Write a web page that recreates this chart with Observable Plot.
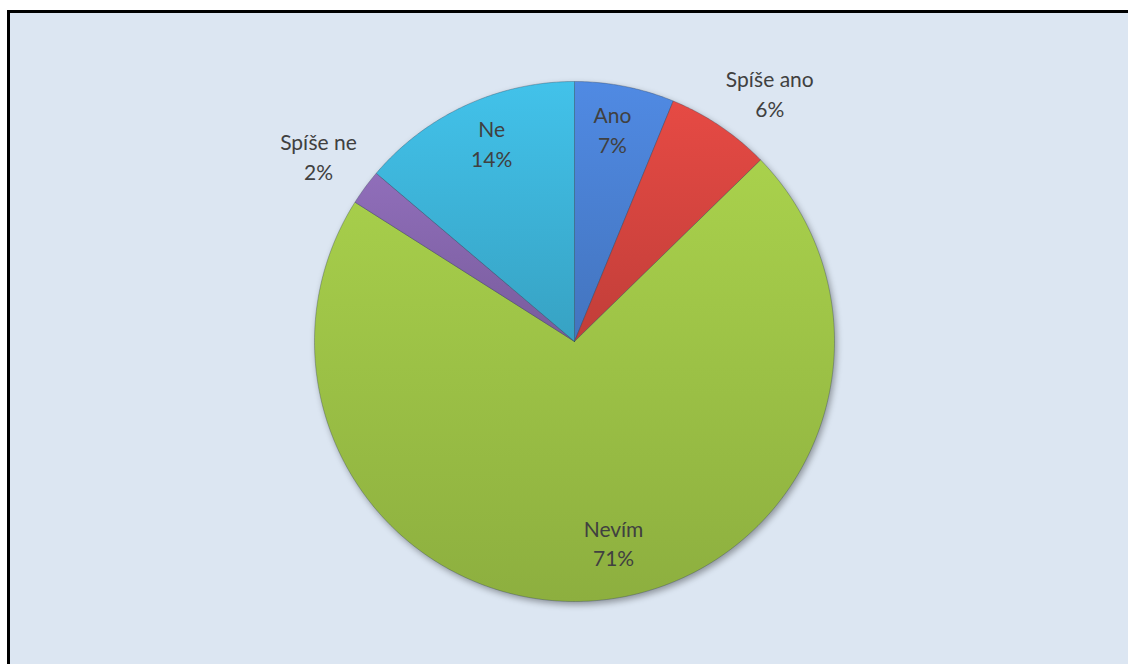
<!DOCTYPE html>
<html><head><meta charset="utf-8">
<script src="https://cdn.jsdelivr.net/npm/d3@7"></script>
<script src="https://cdn.jsdelivr.net/npm/@observablehq/plot@0.6"></script>
<style>
html,body{margin:0;padding:0;background:#fff;width:1128px;height:664px;overflow:hidden;}
#box{position:absolute;left:7px;top:10px;width:1130px;height:670px;border:3px solid #000;background:#dce6f2;}
#chart{position:absolute;left:0;top:0;}
#chart svg{display:block;}
</style></head>
<body>
<div id="box"><div id="chart"></div></div>
<script>
const categories = ["Ano", "Spíše ano", "Nevím", "Spíše ne", "Ne"];
const values = [6.2, 6.5, 71.3, 2.2, 13.8];
const percentLabels = ["7%", "6%", "71%", "2%", "14%"];
const colors = ["#4a80d2", "#d5443f", "#9cc146", "#8566ac", "#3db3d8"];
// label placement (radius as fraction of pie radius, angle in degrees clockwise from top)
const labelRadius = [0.832, 1.217, 0.787, 1.217, 0.829];
const labelAngle = [10.1, 38.1, 169.0, 306.0, 337.4];

const pie = d3.pie().sort(null).value(d => d.value)(categories.map((c, i) => ({cat: c, value: values[i]})));
const pts = [];
const labels = [];
pie.forEach((s, i) => {
  const a0 = s.startAngle, a1 = s.endAngle;
  const n = Math.max(2, Math.ceil((a1 - a0) / 0.01));
  pts.push({cat: s.data.cat, x: 0, y: 0});
  for (let k = 0; k <= n; k++) {
    const a = a0 + (a1 - a0) * k / n;
    pts.push({cat: s.data.cat, x: Math.sin(a), y: Math.cos(a)});
  }
  pts.push({cat: s.data.cat, x: 0, y: 0});
  const m = labelAngle[i] * Math.PI / 180;
  labels.push({text: s.data.cat + "\n" + percentLabels[i], x: labelRadius[i] * Math.sin(m), y: labelRadius[i] * Math.cos(m)});
});

const W = 1118, H = 651, cx = 564, cy = 328, R = 260;
const chart = Plot.plot({
  width: W, height: H,
  marginLeft: cx - R, marginRight: W - cx - R,
  marginTop: cy - R, marginBottom: H - cy - R,
  x: {domain: [-1, 1], axis: null},
  y: {domain: [-1, 1], axis: null},
  color: {domain: categories, range: colors},
  style: {background: "transparent", fontFamily: "Lato, 'Open Sans', sans-serif"},
  marks: [
    Plot.line(pts, {x: "x", y: "y", z: "cat", fill: "cat", stroke: "#2a3a50", strokeWidth: 0.6, strokeOpacity: 0.55, curve: "linear"}),
    Plot.text(labels, {x: "x", y: "y", text: "text", fontSize: 21, lineHeight: 1.4, fill: "#404040"})
  ]
});
// gradient shading for a slight 3D look
const ns = "http://www.w3.org/2000/svg";
const defs = document.createElementNS(ns, "defs");
colors.forEach((c, i) => {
  const g = document.createElementNS(ns, "linearGradient");
  g.setAttribute("id", "grad" + i);
  g.setAttribute("x1", "0"); g.setAttribute("y1", "0"); g.setAttribute("x2", "0"); g.setAttribute("y2", "1");
  [[0, d3.color(c).brighter(0.22)], [1, d3.color(c).darker(0.28)]].forEach(([o, col]) => {
    const st = document.createElementNS(ns, "stop");
    st.setAttribute("offset", o); st.setAttribute("stop-color", col.formatHex());
    g.appendChild(st);
  });
  defs.appendChild(g);
});
chart.insertBefore(defs, chart.firstChild);
const lineG = chart.querySelector('g[aria-label="line"]');
lineG.style.filter = "drop-shadow(2px 3px 3px rgba(0,0,0,0.35))";
lineG.querySelectorAll("path").forEach(p => {
  const col = d3.color(p.getAttribute("fill"));
  const idx = colors.findIndex(c => d3.color(c).formatHex() === (col && col.formatHex()));
  if (idx >= 0) p.setAttribute("fill", "url(#grad" + idx + ")");
});
document.getElementById("chart").appendChild(chart);
</script>
</body></html>
